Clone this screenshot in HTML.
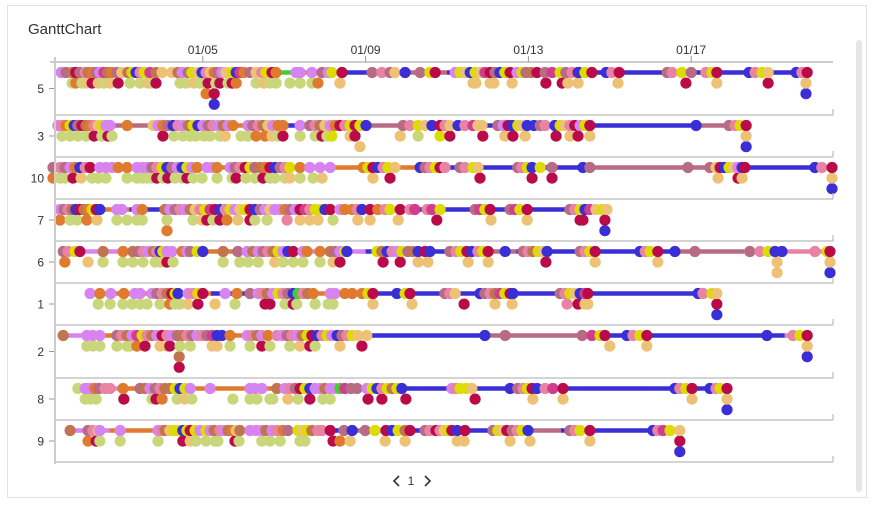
<!DOCTYPE html>
<html><head><meta charset="utf-8"><style>
html,body{margin:0;padding:0;background:#fff;}
svg{display:block;font-family:"Liberation Sans",sans-serif;}
</style></head><body>
<svg id="chart" width="896" height="517" viewBox="0 0 896 517" xmlns="http://www.w3.org/2000/svg">
<rect x="7.5" y="5.5" width="859" height="492" fill="#fff" stroke="#e2e2e2"/>
<text x="28" y="34" font-size="15" fill="#333">GanttChart</text>
<rect x="856" y="40" width="6" height="452" rx="3" fill="#e6e6e6"/>
<g id="plot"></g>
<g>
<path d="M399 476 L394 481 L399 486" fill="none" stroke="#333" stroke-width="1.6"/>
<text x="411" y="485" font-size="12" fill="#333" text-anchor="middle">1</text>
<path d="M425 476 L430 481 L425 486" fill="none" stroke="#333" stroke-width="1.6"/>
</g>
</svg>
<script>
const tickDays = [5, 9, 13, 17];
const tickLabels = ['01/05', '01/09', '01/13', '01/17'];
const categories = ['5', '3', '10', '7', '6', '1', '2', '8', '9'];

const r5Segs = [[1.52,6.8,'O'],[6.8,7.2,'E'],[7.2,8.4,'O'],[8.4,9.7,'B'],[9.7,11.0,'M'],[11.0,19.85,'B']];
const r5Top = ['1.52L','1.64M','1.79T','1.88C','1.98M','2.11N','2.18T','2.28O','2.38M','2.47L','2.57G','2.67T','2.77O','2.89M','3.01P','3.16T','3.26Y','3.36B','3.46N','3.56Y','3.70G','3.85T','4.0P','4.24P','4.39T','4.49L','4.64M','4.73Y','4.88P','4.98B','5.08N','5.18P','5.28O','5.37M','5.47L','5.57P','5.72Y','5.82B','5.91G','6.01O','6.16M','6.31P','6.45N','6.55Y','6.70C','6.80O','7.29L','7.39L','7.68L','7.93M','8.08L','8.17Y','8.42C','9.16M','9.40N','9.60M','9.72P','9.97B','10.34M','10.58Y','10.71C','11.2L','11.32Y','11.44P','11.57B','11.69Y','11.81P','11.93G','12.06C','12.18M','12.30B','12.42Y','12.55C','12.72L','12.84Y','12.94M','13.06T','13.21C','13.41M','13.58G','13.78Y','13.92M','14.07N','14.22C','14.24B','14.39Y','14.56C','14.91B','15.05N','15.23C','16.41M','16.53N','16.77Y','17.0M','17.36N','17.51Y','17.63C','18.42B','18.57N','18.74Y','18.89P','19.58B','19.72N','19.85C'];
const r5L2 = ['1.79K','1.88O','2.03K','2.13P','2.28C','2.43P','2.57K','2.72P','2.92C','3.21K','3.46K','3.65P','3.75K','3.85C','4.44K','4.59K','4.78P','4.93K','5.03K','5.13C','5.32K','5.42C','5.62K','5.72C','5.82O','6.31K','6.50P','6.65K','6.80K','7.14K','7.39K','7.68K','7.83O','8.37P','11.64P','11.71P','12.06P','12.15P','12.6P','13.43C','13.83C','13.97P','14.22P','15.2P','16.87C','17.63P','18.89C','19.82P'];
const r5L3 = ['5.08O','5.28C','19.82B'];
const r5L4 = ['5.28B'];

const r3Segs = [[1.44,5.0,'M'],[5.0,6.9,'O'],[6.9,8.6,'B'],[8.6,10.6,'M'],[10.6,17.12,'B'],[17.12,18.35,'M']];
const r3Top = ['1.44L','1.54N','1.64O','1.74Y','1.84B','1.93M','2.03C','2.13T','2.23O','2.33N','2.43P','2.52Y','2.62L','2.72L','3.14O','3.78P','3.90L','4.02O','4.14M','4.27B','4.39N','4.51L','4.64T','4.76Y','4.88B','5.0L','5.13M','5.25N','5.37L','5.50T','5.62L','5.74O','6.11L','6.23M','6.36N','6.48T','6.60P','6.72L','6.85O','6.97O','7.39L','7.63M','7.76N','7.88T','8.0P','8.13L','8.25O','8.37C','8.49N','8.62Y','8.74C','8.86Y','9.01B','9.92M','10.09N','10.29Y','10.46P','10.63B','10.83C','10.95N','11.07P','11.27B','11.44N','11.64G','11.76P','11.86P','12.25M','12.38L','12.50C','12.60B','12.74Y','12.84P','12.97B','13.14B','13.29M','13.41N','13.65B','13.78Y','13.90P','14.02N','14.14C','14.27L','14.39Y','14.51C','17.12B','17.93M','18.08N','18.20Y','18.35C'];
const r3L2 = ['1.54K','1.74K','1.93K','2.13K','2.33C','2.52K','2.67C','2.77K','4.02C','4.29K','4.51K','4.69K','4.83K','5.03K','5.18K','5.42K','5.55P','5.94K','6.11K','6.31O','6.53O','6.70P','6.85K','6.97C','7.39K','7.76K','7.93C','8.05K','8.17Y','8.62P','8.74C','9.85P','10.29K','10.83Y','11.07C','11.88C','12.42P','12.62C','12.92P','13.68C','14.02P','14.22C','14.51P','18.35P'];
const r3L3 = ['8.86P','18.35B'];

const r10Segs = [[1.32,10.8,'O'],[10.8,14.4,'B'],[14.4,17.5,'M'],[17.5,20.46,'B']];
const r10Top = ['1.32M','1.49N','1.61M','1.74L','1.86O','1.98B','2.11N','2.23C','2.47L','2.62L','2.77L','2.92O','3.14O','3.38L','3.51L','3.63L','3.75M','3.87N','4.0Y','4.12B','4.24M','4.37L','4.49B','4.61Y','4.73L','4.86O','5.10L','5.23L','5.35O','5.67L','5.79M','5.91N','6.04C','6.16Y','6.28M','6.41T','6.53O','6.65C','6.77B','6.90M','7.02N','7.14Y','7.39O','7.63L','7.88L','8.13L','8.94O','9.06Y','9.18C','9.30B','9.43N','9.55Y','9.72P','10.34B','10.46M','10.58N','10.71Y','10.83C','10.95N','11.32M','11.44N','11.64Y','11.76P','12.74M','12.84N','12.97Y','13.09B','13.29Y','13.58M','14.34B','14.51M','16.92M','17.46M','17.61P','17.71C','17.81B','17.93Y','18.05P','18.15L','18.25B','18.32C','20.04B','20.21N','20.46C'];
const r10L2 = ['1.32O','1.49K','1.61K','1.81C','2.01P','2.28K','2.43K','2.62K','3.14K','3.38K','3.51K','3.63K','3.75K','3.87C','4.02K','4.14C','4.32K','4.49K','4.61C','4.76K','4.98K','5.35K','5.72K','5.82C','6.06K','6.28K','6.48C','6.65K','6.77K','7.02K','7.14P','7.39K','7.71K','7.93P','9.18P','9.60C','11.81C','13.09C','13.58C','17.66P','18.15C','18.25P','20.46P'];
const r10L3 = ['20.46B'];

const r7Segs = [[1.49,3.2,'O'],[3.2,4.3,'B'],[4.3,4.9,'O'],[4.9,5.4,'E'],[5.4,9.5,'O'],[9.5,14.93,'B']];
const r7Top = ['1.49L','1.59M','1.69N','1.79T','1.88B','1.98C','2.08T','2.18O','2.28Y','2.38C','2.47B','2.89L','3.01L','3.38L','3.51O','4.07T','4.19L','4.32M','4.44N','4.56L','4.69T','4.81P','4.93N','5.05Y','5.18G','5.30C','5.42B','5.55N','5.67Y','5.79L','5.91P','6.04Y','6.16C','6.28B','6.41M','6.53L','6.65P','6.77L','6.90L','7.02O','7.14M','7.27L','7.39C','7.51G','7.63N','7.76Y','7.88Y','8.0B','8.13C','8.37L','8.49O','8.67O','8.79N','8.91B','9.11C','9.30O','9.48N','9.60Y','9.85C','10.09N','10.21G','10.51N','10.63G','10.83Y','11.69M','11.81G','11.93Y','12.06C','12.55M','12.67G','12.79Y','12.97C','14.02M','14.14N','14.27Y','14.39B','14.51G','14.66P','14.81Y','14.93P'];
const r7L2 = ['1.49O','1.74K','1.91K','2.15O','2.40P','2.89K','3.14K','3.38K','3.51K','4.12K','4.76K','4.98P','5.10C','5.25K','5.42C','5.59O','5.86P','6.16C','6.28K','6.58K','7.07N','7.39P','7.63P','7.83P','8.20K','8.81P','9.11P','9.80P','10.75C','12.08P','12.97P','14.27C','14.34C','14.88C'];
const r7L3 = ['4.12O','14.88B'];

const r6Segs = [[1.55,3.6,'L'],[3.6,7.0,'O'],[7.0,9.0,'L'],[9.0,9.7,'B'],[9.7,10.3,'N'],[10.3,11.8,'B'],[11.8,12.7,'M'],[12.7,16.7,'B'],[16.7,18.3,'M'],[18.3,20.41,'N']];
const r6Top = ['1.57M','1.69N','1.86Y','1.98C','2.55T','3.04O','3.28T','3.41M','3.53N','3.65L','3.78T','3.87N','3.95B','4.02Y','4.12L','4.24L','4.49O','4.61L','4.69M','4.86Y','5.0B','5.50T','5.86M','6.09L','6.23T','6.36L','6.48M','6.60N','6.72T','6.85Y','6.97L','7.09B','7.22C','7.46L','7.56O','7.88O','8.13T','8.25M','8.37L','8.49Y','8.54B','9.28Y','9.40T','9.53B','9.65N','9.77L','9.89Y','10.04M','10.16T','10.29B','10.46C','10.58B','11.07M','11.22N','11.34Y','11.49C','11.61B','11.76N','11.88Y','12.01C','12.43B','12.87M','12.99N','13.11T','13.24Y','13.36P','13.46B','14.27M','14.39N','14.51Y','14.64C','15.74B','15.87N','15.99Y','16.18C','16.60B','17.09M','18.44M','18.69N','18.89Y','19.06B','19.23B','20.04N','20.34Y','20.41C'];
const r6L2 = ['1.61O','2.18P','2.55K','3.04K','3.28K','3.53K','3.83K','3.95K','4.07P','4.12C','4.27K','5.50K','5.91K','6.11K','6.36K','6.77P','6.97K','7.22K','7.46K','7.88K','8.20P','8.37C','9.43C','9.85C','10.29P','10.53P','11.52P','12.01P','13.43C','14.64P','16.18P','19.11P','20.41P'];
const r6L3 = ['19.11P','20.41B'];

const r1Segs = [[2.23,5.2,'O'],[5.2,6.1,'B'],[6.1,8.2,'O'],[8.2,9.2,'M'],[9.2,17.17,'B'],[17.17,17.63,'N']];
const r1Top = ['2.23L','2.47O','2.74L','3.06O','3.33L','3.46L','3.75L','3.87M','4.0N','4.12T','4.24C','4.32Y','4.39B','4.64L','4.76N','4.88Y','5.0C','5.55L','5.84O','6.16M','6.36L','6.45N','6.58T','6.72L','6.85Y','6.97N','7.09M','7.22B','7.34E','7.46N','7.58T','7.71O','8.13L','8.25L','8.49O','8.67O','8.91O','9.06Y','9.18C','9.77B','9.97Y','10.09C','10.95M','11.07N','11.20P','11.81B','11.93M','12.06N','12.18T','12.30G','12.42Y','12.55C','12.62B','13.78M','13.90N','14.02Y','14.14P','14.27B','14.39G','14.46C','17.17B','17.29N','17.51Y','17.63P'];
const r1L2 = ['2.43K','2.72K','3.04K','3.26K','3.46K','3.63K','3.95K','4.19O','4.32K','4.44K','4.64P','4.88C','5.30P','5.79K','6.53C','6.65C','7.02K','7.22C','7.31K','7.76K','8.08K','8.20K','9.18P','10.14P','11.42C','12.18P','12.60P','13.95N','14.22C','14.39P','14.46P','17.63C'];
const r1L3 = ['17.63B'];

const r2Segs = [[1.57,2.6,'L'],[2.6,8.5,'O'],[8.5,11.93,'B'],[11.93,14.32,'M'],[14.32,19.3,'B'],[19.3,19.85,'N']];
const r2Top = ['1.57T','2.15L','2.30L','2.47L','2.89M','3.01N','3.14T','3.26L','3.38G','3.51Y','3.63N','3.75T','3.87L','4.0C','4.12N','4.24L','4.37M','4.49T','4.61N','4.73M','4.86L','4.98N','5.10M','5.23G','5.35B','5.47B','5.67O','6.09L','6.21N','6.33T','6.45L','6.60O','6.82N','6.95L','7.07M','7.19N','7.31L','7.44T','7.56Y','7.68C','7.81B','7.93N','8.05Y','8.17L','8.30B','8.42M','8.54N','8.67Y','8.81P','9.03P','11.93B','12.43M','14.32M','14.56G','14.76Y','14.88C','15.42B','15.57N','15.74Y','15.91C','18.86B','19.50N','19.67Y','19.85C'];
const r2L2 = ['2.15K','2.30K','2.47K','2.89K','3.14K','3.21K','3.38O','3.58C','3.95P','4.12P','4.19C','4.44K','4.69K','5.23P','5.35P','5.67K','6.16K','6.45C','6.65K','7.14K','7.39P','7.63C','7.76K','8.37P','8.91C','15.0P','15.91P','19.85P'];
const r2L3 = ['4.42T','19.85B'];
const r2L4 = ['4.42C'];

const r8Segs = [[1.93,3.0,'L'],[3.0,3.7,'O'],[3.7,4.5,'B'],[4.5,8.0,'O'],[8.0,9.3,'M'],[9.3,17.88,'B']];
const r8Top = ['1.93K','2.11L','2.18L','2.28L','2.35O','2.45M','2.60N','2.72N','3.04O','3.46M','3.58T','3.70L','3.83M','3.95N','4.07T','4.19T','4.32Y','4.44B','4.56Y','4.69L','5.18L','6.16L','6.28L','6.45L','6.82T','7.02L','7.14N','7.27M','7.39C','7.51Y','7.63B','7.76L','7.88L','8.0T','8.13L','8.25L','8.37E','8.49G','8.64M','8.79M','9.03L','9.16Y','9.28B','9.40N','9.53Y','9.65T','9.77Y','9.89B','11.12L','11.22N','11.32Y','11.47Y','11.61P','12.55B','12.74M','12.87N','12.97Y','13.09C','13.21B','13.41N','13.60G','13.85C','16.60B','16.72N','16.87Y','17.02C','17.46B','17.61N','17.71Y','17.88C'];
const r8L2 = ['2.11K','2.23K','2.38K','3.06C','3.75K','3.85C','4.0O','4.37K','4.56P','4.73K','5.74K','6.16K','6.33K','6.65K','6.72K','7.09P','7.34K','7.63C','7.95K','8.13K','9.06C','9.40C','9.99C','11.69C','13.11P','13.85P','17.02P','17.88P'];
const r8L3 = ['17.88B'];

const r9Segs = [[1.74,2.7,'L'],[2.7,4.0,'O'],[4.0,8.1,'L'],[8.1,8.8,'B'],[8.8,9.4,'M'],[9.4,12.9,'B'],[12.9,13.8,'M'],[13.8,16.72,'B']];
const r9Top = ['1.74T','2.18M','2.30N','2.43P','2.47L','2.97L','3.90L','4.0N','4.07T','4.19P','4.29Y','4.39Y','4.51B','4.61Y','4.69C','4.81Y','4.93L','5.08Y','5.18L','5.28T','5.42N','5.52L','5.62T','5.72O','5.82P','5.91T','6.16L','6.31L','6.45L','6.55T','6.70L','6.82N','6.97O','7.09M','7.34Y','7.46P','7.56Y','7.68T','7.83N','7.93N','8.13C','8.47M','8.67B','8.99M','9.23Y','9.50C','9.65B','9.80Y','9.97T','10.09C','10.46M','10.58N','10.73C','10.83N','10.93P','11.02Y','11.12C','11.25B','11.44C','12.13M','12.25Y','12.35P','12.47C','12.60M','12.72N','12.84Y','12.99B','14.02M','14.14N','14.27Y','14.51C','16.06B','16.18N','16.31G','16.48Y','16.72P'];
const r9L2 = ['2.18O','2.38C','2.47K','2.97K','3.90K','4.51C','4.69P','4.83K','5.08K','5.30K','5.37K','5.79C','5.89K','6.45K','6.65K','6.90K','7.39K','7.51K','8.20C','8.37O','8.62P','9.48P','9.97P','11.25P','11.42P','12.55P','13.04P','14.51P','16.72C'];
const r9L3 = ['16.72B'];

const rowSegs = [r5Segs, r3Segs, r10Segs, r7Segs, r6Segs, r1Segs, r2Segs, r8Segs, r9Segs];
const rowLevels = [[r5Top,r5L2,r5L3,r5L4],[r3Top,r3L2,r3L3],[r10Top,r10L2,r10L3],[r7Top,r7L2,r7L3],[r6Top,r6L2,r6L3],[r1Top,r1L2,r1L3],[r2Top,r2L2,r2L3,r2L4],[r8Top,r8L2,r8L3],[r9Top,r9L2,r9L3]];

const COLORS = {L:'#d884f0',O:'#e07a2e',K:'#c9d67a',P:'#eec274',C:'#bb0a4a',B:'#3a2fd6',M:'#b86b84',N:'#e983a3',Y:'#dcdc00',G:'#d03d8c',T:'#c0744f',E:'#44cc33'};
const NS = 'http://www.w3.org/2000/svg';
const plot = document.getElementById('plot');
const X0 = 55, X1 = 833, TOP = 62, LVL = 10.6;
function xScale(d){ return 40 + (d - 1) * 40.7; }
function mk(tag, attrs){ const e = document.createElementNS(NS, tag); for (const k in attrs) e.setAttribute(k, attrs[k]); plot.appendChild(e); return e; }

// top axis
let ax = mk('line',{x1:50,y1:TOP,x2:X1,y2:TOP,stroke:'#bbb','stroke-width':1.5});


tickDays.forEach((d,i)=>{
  const x = xScale(d);
  const t = mk('line',{x1:x,y1:TOP-6,x2:x,y2:TOP,stroke:'#999','stroke-width':1});
  
  
  const l = mk('text',{x:x,y:TOP-8,'font-size':12,fill:'#333','text-anchor':'middle'});
  
  
  l.textContent = tickLabels[i];
});

let y = TOP;
categories.forEach((cat, ri) => {
  const levels = rowLevels[ri];
  const h = Math.round(10.5 * (levels.length + 1));
  const rowY = y + 10.5;
  const mid = y + h / 2;
  const lab = mk('text',{x:44,y:mid+4.5,'font-size':12,fill:'#333','text-anchor':'end'});
  
  
  lab.textContent = cat;
  const tk = mk('line',{x1:49,y1:mid,x2:55,y2:mid,stroke:'#999','stroke-width':1});
  
  
  rowSegs[ri].forEach(s => {
    const ln = mk('line',{x1:xScale(s[0]),y1:rowY,x2:xScale(s[1]),y2:rowY,stroke:COLORS[s[2]],'stroke-width':4.5});
    
    
  });
  for (let li = levels.length - 1; li >= 0; li--) {
    levels[li].forEach(tok => {
      const d = parseFloat(tok), c = tok.slice(-1);
      const dot = mk('circle',{cx:xScale(d),cy:rowY + li*LVL,r:5.6,fill:COLORS[c]});
      
      
    });
  }
  y += h;
  const sep = mk('line',{x1:X0,y1:y,x2:X1,y2:y,stroke:'#bbb','stroke-width':1.2});
  
  
  const rt = mk('line',{x1:X1,y1:y-6,x2:X1,y2:y,stroke:'#bbb','stroke-width':1.2});
  
  
});
let yax = mk('line',{x1:X0,y1:TOP-5,x2:X0,y2:y+2,stroke:'#ccc','stroke-width':2});


</script>
</body></html>
